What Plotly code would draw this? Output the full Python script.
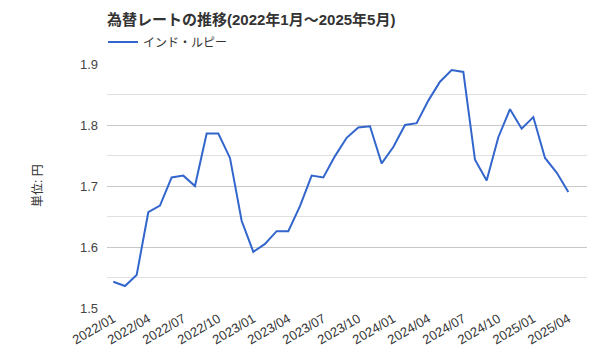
import plotly.graph_objects as go

months = [f"{y}/{m:02d}" for y in range(2022, 2026) for m in range(1, 13)][:40]
values = [1.543, 1.536, 1.554, 1.657, 1.668, 1.714, 1.717, 1.700, 1.786, 1.786,
          1.746, 1.643, 1.592, 1.605, 1.626, 1.626, 1.667, 1.717, 1.714, 1.749,
          1.779, 1.796, 1.798, 1.737, 1.764, 1.800, 1.803, 1.840, 1.871, 1.890,
          1.887, 1.743, 1.709, 1.780, 1.826, 1.794, 1.813, 1.746, 1.722, 1.690]
tick_labels = months[::3]
major_ticks = [1.5, 1.6, 1.7, 1.8, 1.9]
minor_ticks = [1.55, 1.65, 1.75, 1.85]

font_family = "Liberation Sans, Arial, Noto Sans CJK JP, sans-serif"

fig = go.Figure()
fig.add_trace(go.Scatter(x=months, y=values, mode="lines", name="インド・ルピー",
                         line=dict(color="#3366CC", width=2)))

minor_lines = [dict(type="line", xref="paper", x0=0, x1=1, yref="y", y0=v, y1=v,
                    line=dict(color="#E0E0E0", width=1), layer="below")
               for v in minor_ticks]

fig.update_layout(
    width=600, height=360,
    margin=dict(l=107, r=13, t=64, b=52, autoexpand=False),
    paper_bgcolor="white", plot_bgcolor="white",
    font=dict(family=font_family, size=12, color="#444"),
    title=dict(text="<b>為替レートの推移(2022年1月～2025年5月)</b>", x=107/600, xref="container",
               xanchor="left", y=1-20/360, yanchor="middle", pad=dict(l=0, r=0, t=0, b=0),
               font=dict(size=15, color="#333")),
    showlegend=True,
    legend=dict(x=103/600, xref="container", y=1-42/360, yref="container", yanchor="middle",
                xanchor="left", orientation="h", font=dict(size=12, color="#333"),
                bgcolor="rgba(0,0,0,0)"),
    xaxis=dict(type="category", tickmode="array", tickvals=tick_labels, ticktext=tick_labels,
               tickangle=-30, showgrid=False, showline=False, ticks="", automargin=False,
               tickfont=dict(size=13, color="#333"), range=[-0.54, 40.6]),
    yaxis=dict(range=[1.5, 1.9], tickmode="array", tickvals=major_ticks, tickformat=".1f",
               gridcolor="#C8C8C8", showgrid=True,
               zeroline=False, showline=False, ticks="", automargin=False,
               ticklabelstandoff=8,
               tickfont=dict(size=13, color="#444")),
    shapes=minor_lines,
    annotations=[dict(text="単位: 円", xref="paper", yref="paper", x=-(107-38)/480, y=0.5,
                      xanchor="center", yanchor="middle", textangle=-90, showarrow=False,
                      font=dict(size=12, color="#333"))],
)

fig.write_html("out.html", config={"displayModeBar": False},
               post_script="document.body.style.margin='0';")
